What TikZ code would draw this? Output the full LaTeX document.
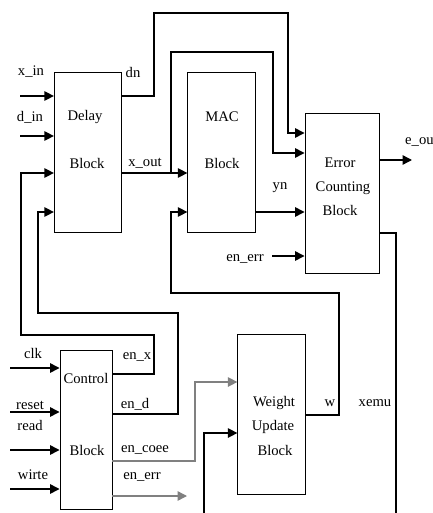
\documentclass[tikz,border=0pt]{standalone}
\usepackage{fontspec}
\setmainfont{Liberation Serif}
\usetikzlibrary{arrows.meta}

\begin{document}
\begin{tikzpicture}[x=0.03cm,y=-0.03cm,>={Triangle[length=8pt,width=8pt]},every node/.style={font=\fontsize{12.5}{13}\selectfont,inner sep=0pt}]
\tikzstyle{blk}=[draw,line width=.8pt,minimum width=2.02cm,minimum height=4.82cm]
\tikzstyle{sig}=[line width=1.2pt]
\tikzstyle{dim}=[line width=1.2pt,gray]
\useasboundingbox (0,0) rectangle (433,513);
% blocks
\node[blk] (delay) at (88,152.5) {};
\node[blk] (mac) at (221.5,152.5) {};
\node[blk,minimum width=2.22cm,minimum height=4.8cm] (err) at (342,193) {};
\node[blk,minimum height=4.8cm] (wt) at (271.5,414) {};
\node[blk,minimum width=1.56cm,minimum height=4.77cm] (ctl) at (86,429.5) {};
\node (tdelay) at (85,117) {Delay}; \node (tdelay2) at (87,163) {Block};
\node (tmac) at (222,117) {MAC}; \node (tmac2) at (222,163) {Block};
\node (terr) at (340,163) {Error}; \node (terr2) at (343,188) {Counting}; \node (terr3) at (340,210) {Block};
\node (twt) at (274,403) {Weight}; \node (twt2) at (273,427) {Update}; \node (twt3) at (275,450) {Block};
\node (tctl) at (86,378) {Control}; \node (tctl2) at (87,450) {Block};
% outside inputs
\coordinate (xin) at (20,96); \coordinate (din) at (20,136);
\coordinate (clk) at (10,368); \coordinate (rst) at (10,412);
\coordinate (rd) at (10,450); \coordinate (wr) at (10,489);
\coordinate (eerr) at (272,256); \coordinate (eou) at (412,160);
\coordinate (tap) at (171,173); \coordinate (wlow) at (204,513);
\coordinate (xlow) at (396,513); \coordinate (eend) at (187,496);
\draw[sig,->] (xin)--(xin -| delay.west); \draw[sig,->] (din)--(din -| delay.west);
\draw[sig,->] (clk)--(clk -| ctl.west); \draw[sig,->] (rst)--(rst -| ctl.west);
\draw[sig,->] (rd)--(rd -| ctl.west); \draw[sig,->] (wr)--(wr -| ctl.west);
\node (lxin) at (31,72) {x\_in}; \node (ldin) at (30,117) {d\_in};
\node (lclk) at (33,353) {clk}; \node (lrst) at (30,405) {reset};
\node (lrd) at (30,425) {read}; \node (lwr) at (33,475) {wirte};
% delay and mac outputs
\draw[sig,->] (delay.east |- xin) -| (154,13) -| (288,133) -- (err.west |- 0,133);
\draw[sig,->] (delay.east |- tap) -- (mac.west |- tap);
\draw[sig,->] (tap) |- (273,52) |- (err.west |- 0,153);
\draw[sig,->] (mac.east |- 0,212) -- (err.west |- 0,212);
\draw[sig,->] (eerr) -- (eerr -| err.west);
\draw[sig,->] (err.east |- eou) -- (eou);
\draw[sig] (err.east |- 0,233) -| (xlow);
\node (ldn) at (133,72) {dn}; \node (lxout) at (145,163) {x\_out};
\node (lyn) at (280,188) {yn}; \node (leerr) at (245,259) {en\_err};
\node[anchor=west] (leou) at (405,142) {e\_ou}; \node (lxemu) at (375,403) {xemu};
% weight feedback
\draw[sig,->] (wt.east |- 0,415) -| (339,293) -| (171,212) -- (mac.west |- 0,212);
\draw[sig,->] (wlow) |- (wt.west |- 0,433);
\node (lw) at (330,403) {w};
% control outputs
\draw[sig,->] (ctl.east |- 0,374) -| (154,335) -| (21,173) -- (delay.west |- 0,173);
\draw[sig,->] (ctl.east |- 0,414) -| (178,313) -| (38,212) -- (delay.west |- 0,212);
\draw[dim,->] (ctl.east |- 0,461) -| (195,382) -- (wt.west |- 0,382);
\draw[dim,->] (ctl.east |- eend) -- (eend);
\node (lenx) at (137,357) {en\_x}; \node (lend) at (135,404) {en\_d};
\node (lencoee) at (145,450) {en\_coee}; \node (lenerr) at (142,477) {en\_err};
\end{tikzpicture}
\end{document}
